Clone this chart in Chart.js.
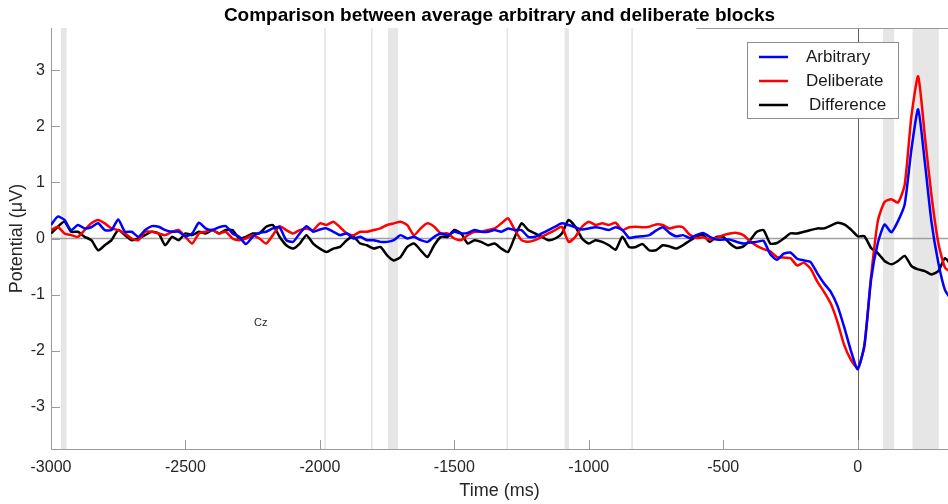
<!DOCTYPE html>
<html>
<head>
<meta charset="utf-8">
<script src="https://cdn.jsdelivr.net/npm/chart.js@4.4.1/dist/chart.umd.min.js"></script>
<style>
  html, body { margin: 0; padding: 0; background: #fff; }
  canvas { display: block; }
</style>
</head>
<body>
<canvas id="erpChart" width="948" height="504"></canvas>
<script>
// time (ms) and average potentials (uV), every 25 ms
var timeMs = [-3000,-2975,-2950,-2925,-2900,-2875,-2850,-2825,-2800,-2775,
  -2750,-2725,-2700,-2675,-2650,-2625,-2600,-2575,-2550,-2525,
  -2500,-2475,-2450,-2425,-2400,-2375,-2350,-2325,-2300,-2275,
  -2250,-2225,-2200,-2175,-2150,-2125,-2100,-2075,-2050,-2025,
  -2000,-1975,-1950,-1925,-1900,-1875,-1850,-1825,-1800,-1775,
  -1750,-1725,-1700,-1675,-1650,-1625,-1600,-1575,-1550,-1525,
  -1500,-1475,-1450,-1425,-1400,-1375,-1350,-1325,-1300,-1275,
  -1250,-1225,-1200,-1175,-1150,-1125,-1100,-1075,-1050,-1025,
  -1000,-975,-950,-925,-900,-875,-850,-825,-800,-775,
  -750,-725,-700,-675,-650,-625,-600,-575,-550,-525,
  -500,-475,-450,-425,-400,-375,-350,-325,-300,-275,
  -250,-225,-200,-175,-150,-125,-100,-75,-50,-25,
  0,25,50,75,100,125,150,175,200,225,
  250,275,300,325,350];

var arbitrary = [0.24,0.39,0.33,0.15,0.24,0.18,0.20,0.27,0.15,0.15,
  0.34,0.12,0.12,0.03,0.15,0.22,0.21,0.15,0.12,0.12,
  0.04,0.09,0.28,0.18,0.15,0.20,0.22,0.09,0.03,-0.10,
  0.03,0.10,0.12,0.18,0.20,-0.03,-0.06,0.09,0.22,0.12,
  0.16,0.18,0.12,0.06,0.09,0.00,0.03,-0.03,-0.03,-0.06,
  -0.06,-0.03,0.06,0.00,0.03,-0.03,-0.06,0.03,0.09,0.06,
  0.12,0.09,0.10,0.15,0.12,0.12,0.15,0.12,0.18,0.15,
  0.15,0.03,0.03,0.09,0.15,0.21,0.27,0.24,0.20,0.16,
  0.18,0.20,0.18,0.15,0.20,0.15,0.01,0.03,0.04,0.06,
  0.14,0.20,0.10,0.04,0.06,0.01,0.06,0.10,0.03,-0.02,
  -0.02,-0.02,-0.06,-0.09,-0.07,-0.06,-0.04,-0.28,-0.38,-0.27,
  -0.25,-0.36,-0.39,-0.42,-0.62,-0.80,-0.95,-1.20,-1.58,-2.00,
  -2.33,-1.90,-0.73,-0.08,0.25,0.11,0.31,0.61,1.59,2.30,
  1.35,0.28,-0.43,-0.92,-1.10];

var deliberate = [0.15,0.21,0.09,0.06,0.03,0.15,0.27,0.33,0.27,0.18,
  0.15,0.09,0.00,-0.03,0.12,0.12,0.09,0.06,0.12,0.15,
  0.03,-0.09,0.09,0.12,0.15,0.09,0.12,0.00,-0.03,0.00,
  0.06,0.00,-0.09,0.06,0.22,0.15,0.09,0.15,0.18,0.15,
  0.27,0.24,0.30,0.20,0.09,0.06,0.12,0.12,0.15,0.18,
  0.24,0.27,0.30,0.24,0.06,0.18,0.27,0.21,0.09,0.09,
  0.00,-0.03,0.06,0.12,0.12,0.15,0.18,0.27,0.36,0.15,
  -0.03,-0.06,-0.03,0.03,0.09,0.15,0.21,-0.06,0.03,0.21,
  0.30,0.24,0.27,0.24,0.28,0.15,0.20,0.21,0.20,0.21,
  0.25,0.24,0.18,0.21,0.20,0.07,0.01,0.02,-0.02,0.01,
  0.06,0.09,0.10,0.06,-0.05,-0.13,-0.19,-0.23,-0.33,-0.34,
  -0.35,-0.48,-0.43,-0.54,-0.77,-0.95,-1.16,-1.49,-1.90,-2.16,
  -2.31,-1.92,-0.67,0.31,0.65,0.70,0.64,0.96,2.18,2.89,
  1.82,0.75,-0.08,-0.52,-0.60];

var difference = [0.09,0.21,0.30,0.12,0.12,0.03,-0.03,-0.21,-0.12,-0.03,
  0.15,0.06,-0.03,0.00,0.06,0.12,0.09,-0.12,0.03,-0.03,
  0.09,0.06,0.12,0.09,0.15,0.09,0.15,0.15,0.00,0.03,
  0.09,0.09,0.21,0.24,0.03,-0.12,-0.18,-0.09,0.06,-0.09,
  -0.18,-0.24,-0.18,-0.15,-0.03,0.03,-0.09,-0.12,-0.18,-0.15,
  -0.30,-0.39,-0.33,-0.15,-0.09,-0.21,-0.33,-0.12,0.03,0.03,
  0.15,0.09,-0.09,-0.03,-0.06,-0.12,-0.09,-0.18,-0.24,0.03,
  0.27,0.15,0.09,0.03,-0.03,0.00,0.09,0.33,0.21,0.00,
  -0.09,-0.03,-0.06,-0.12,-0.20,0.03,-0.15,-0.15,-0.10,-0.21,
  -0.21,-0.12,-0.14,-0.18,-0.12,-0.04,0.03,0.07,-0.06,0.03,
  0.03,-0.09,-0.17,-0.14,-0.03,0.12,0.15,-0.09,-0.08,0.00,
  0.09,0.09,0.12,0.15,0.18,0.18,0.23,0.28,0.25,0.16,
  0.04,0.04,-0.17,-0.26,-0.40,-0.46,-0.40,-0.31,-0.49,-0.55,
  -0.58,-0.64,-0.58,-0.35,-0.49];

// shaded time windows (ms)
var sigStart = [-2963, -1984, -1810, -1747, -1306, -1090, -842, 94, 204];
var sigEnd   = [-2942, -1978, -1804, -1709, -1300, -1074, -836, 136, 302];

var yTicks = [-3, -2, -1, 0, 1, 2, 3];
var xTicks = [-3000, -2500, -2000, -1500, -1000, -500, 0];

function pairs(vals) {
  return timeMs.map(function (t, i) { return { x: t, y: vals[i] }; });
}

Chart.defaults.font.family = "'Liberation Sans', Arial, sans-serif";

var axisGrey = '#9a9a9a';
var textCol = '#262626';

var overlay = {
  id: 'overlay',
  beforeDatasetsDraw: function (chart) {
    var c = chart.ctx, a = chart.chartArea;
    var xs = chart.scales.x, ys = chart.scales.y;
    c.save();
    c.beginPath();
    c.rect(a.left, a.top, a.right - a.left, a.bottom - a.top);
    c.clip();
    c.fillStyle = '#e6e6e6';
    for (var i = 0; i < sigStart.length; i++) {
      var x0 = xs.getPixelForValue(sigStart[i]);
      var x1 = xs.getPixelForValue(sigEnd[i]);
      c.fillRect(x0, a.top, x1 - x0, a.bottom - a.top);
    }
    // zero reference lines
    var yz = ys.getPixelForValue(0);
    c.strokeStyle = '#a0a0a0';
    c.lineWidth = 1.5;
    c.beginPath(); c.moveTo(a.left, yz); c.lineTo(a.right, yz); c.stroke();
    var xz = Math.round(xs.getPixelForValue(0)) + 0.5;
    c.strokeStyle = '#606060';
    c.lineWidth = 1;
    c.beginPath(); c.moveTo(xz, a.top); c.lineTo(xz, a.bottom); c.stroke();
    c.restore();

    // inward tick marks + partial top edge
    c.save();
    c.strokeStyle = axisGrey;
    c.lineWidth = 1;
    c.beginPath();
    xs.ticks.forEach(function (tk) {
      var px = Math.round(xs.getPixelForValue(tk.value)) + 0.5;
      c.moveTo(px, a.bottom); c.lineTo(px, a.bottom - 9);
    });
    ys.ticks.forEach(function (tk) {
      var py = Math.round(ys.getPixelForValue(tk.value)) + 0.5;
      c.moveTo(a.left, py); c.lineTo(a.left + 9, py);
    });
    c.moveTo(xs.getPixelForValue(-600), a.top + 0.5);
    c.lineTo(a.right, a.top + 0.5);
    c.stroke();
    c.restore();
  },
  afterDatasetsDraw: function (chart) {
    var c = chart.ctx;
    var xs = chart.scales.x, ys = chart.scales.y;
    c.save();
    // electrode label
    c.fillStyle = textCol;
    c.font = "11px 'Liberation Sans', Arial, sans-serif";
    c.textAlign = 'center';
    c.textBaseline = 'middle';
    c.fillText('Cz', xs.getPixelForValue(-2220), ys.getPixelForValue(-1.5));

    // legend box
    var bx = 747, by = 42, bw = 151, bh = 76;
    c.fillStyle = '#ffffff';
    c.fillRect(bx, by, bw, bh);
    c.strokeStyle = '#8c8c8c';
    c.lineWidth = 1;
    c.strokeRect(bx + 0.5, by + 0.5, bw, bh);
    c.font = "17px 'Liberation Sans', Arial, sans-serif";
    c.textAlign = 'left';
    chart.data.datasets.forEach(function (ds, i) {
      var ly = by + 15 + i * 24;
      c.strokeStyle = ds.borderColor;
      c.lineWidth = 2.5;
      c.beginPath(); c.moveTo(bx + 12, ly); c.lineTo(bx + 41, ly); c.stroke();
      c.fillStyle = '#1a1a1a';
      c.fillText(ds.label, bx + 59 + (i === 2 ? 3 : 0), ly);
    });
    c.restore();
  }
};

new Chart(document.getElementById('erpChart'), {
  type: 'line',
  data: {
    datasets: [{
      label: 'Arbitrary',
      data: pairs(arbitrary),
      borderColor: '#0000ff',
      borderWidth: 2.5,
      pointRadius: 0,
      tension: 0.2
    }, {
      label: 'Deliberate',
      data: pairs(deliberate),
      borderColor: '#ff0000',
      borderWidth: 2.5,
      pointRadius: 0,
      tension: 0.2
    }, {
      label: 'Difference',
      data: pairs(difference),
      borderColor: '#000000',
      borderWidth: 2.5,
      pointRadius: 0,
      tension: 0.2
    }]
  },
  options: {
    responsive: false,
    animation: false,
    devicePixelRatio: 1,
    layout: { padding: 0 },
    plugins: {
      legend: { display: false },
      tooltip: { enabled: false },
      title: {
        display: true,
        fullSize: false,
        text: 'Comparison between average arbitrary and deliberate blocks',
        color: '#000000',
        font: { size: 19, weight: 'bold' },
        padding: { top: 4.5, bottom: 0.7 }
      }
    },
    scales: {
      x: {
        type: 'linear',
        min: -3000,
        max: 336,
        afterFit: function (s) { s.height = 55; },
        afterBuildTicks: function (s) { s.ticks = xTicks.map(function (v) { return { value: v }; }); },
        ticks: {
          padding: 9,
          color: textCol,
          font: { size: 16 },
          maxRotation: 0,
          autoSkip: false,
          callback: function (v) { return String(v); }
        },
        grid: { display: false, drawTicks: false },
        border: { display: true, color: axisGrey, width: 1 },
        title: {
          display: true,
          text: 'Time (ms)',
          color: textCol,
          font: { size: 18 },
          padding: { top: 0, bottom: 2 }
        }
      },
      y: {
        type: 'linear',
        min: -3.75,
        max: 3.75,
        afterFit: function (s) { s.width = 51; },
        afterBuildTicks: function (s) { s.ticks = yTicks.map(function (v) { return { value: v }; }); },
        ticks: {
          padding: 6,
          color: textCol,
          font: { size: 16 },
          callback: function (v) { return String(v); }
        },
        grid: { display: false, drawTicks: false },
        border: { display: true, color: axisGrey, width: 1 },
        title: {
          display: true,
          text: 'Potential (μV)',
          color: textCol,
          font: { size: 18 },
          padding: { top: 6, bottom: 0 }
        }
      }
    }
  },
  plugins: [overlay]
});
</script>
</body>
</html>
